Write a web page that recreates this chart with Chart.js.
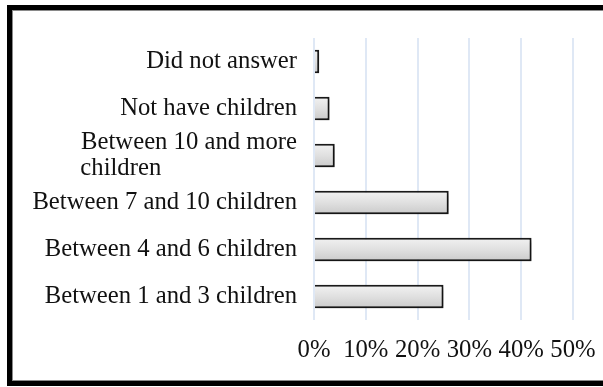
<!DOCTYPE html>
<html>
<head>
<meta charset="utf-8">
<script src="https://cdn.jsdelivr.net/npm/chart.js@4/dist/chart.umd.min.js"></script>
<style>
    html, body { margin: 0; padding: 0; background: #fff; overflow: hidden; }
    #wrap { position: relative; width: 603px; height: 387px; }
    #andamento { position: absolute; left: 0; top: 0; }
    #frame {
        position: absolute; left: 7px; top: 5px;
        width: 700px; height: 371px;
        border: 5px solid #000;
        box-shadow: inset 0 0 0 1px #8a8a8a;
        pointer-events: none;
    }
</style>
</head>
<body>
<div id="wrap">
    <canvas id="andamento" width="603" height="387"></canvas>
    <div id="frame"></div>
</div>
<script>
const FONT = '"Liberation Serif", "Times New Roman", serif';
const FONT_SIZE = 24.7;

// answers, top to bottom
const categories = [
    'Did not answer',
    'Not have children',
    ['Between 10 and more', 'children'],
    'Between 7 and 10 children',
    'Between 4 and 6 children',
    'Between 1 and 3 children'
];
const percents = [1, 3, 4, 26, 42, 25];
const xTicks = [0, 10, 20, 30, 40, 50];

// pad the short line of a wrapped label so both lines start at the same x
function padLines(label, ctx) {
    if (!Array.isArray(label)) return label;
    ctx.save();
    ctx.font = FONT_SIZE + 'px ' + FONT;
    const w = Math.max(...label.map(l => ctx.measureText(l).width));
    const out = label.map(l => {
        let s = l;
        while (ctx.measureText(s + ' ').width <= w + 1) s += ' ';
        return s;
    });
    ctx.restore();
    return out;
}

// soft shadow under the bars
const shadowPlugin = {
    id: 'barShadow',
    beforeDatasetsDraw(chart) {
        const ctx = chart.ctx;
        ctx.save();
        ctx.shadowColor = 'rgba(0,0,0,0.35)';
        ctx.shadowBlur = 4;
        ctx.shadowOffsetX = 2;
        ctx.shadowOffsetY = 2;
    },
    afterDatasetsDraw(chart) {
        chart.ctx.restore();
    }
};

// vertical grey gradient for each bar
function barFill(context) {
    const chart = context.chart;
    const y = chart.scales.y;
    if (!y || y.top === undefined) return '#dcdcdc';
    const cy = y.getPixelForValue(context.dataIndex);
    const half = (y.height / categories.length) * 0.5 / 2;
    const g = chart.ctx.createLinearGradient(0, cy - half, 0, cy + half);
    g.addColorStop(0, '#f2f2f2');
    g.addColorStop(0.5, '#e0e0e0');
    g.addColorStop(1, '#cacaca');
    return g;
}

const data = {
    labels: categories,
    datasets: [{
        data: percents,
        backgroundColor: barFill,
        borderColor: '#1a1a1a',
        borderWidth: 2,
        borderSkipped: 'start',
        categoryPercentage: 1,
        barPercentage: 0.5
    }]
};

const config = {
    type: 'bar',
    data,
    options: {
        indexAxis: 'y',
        responsive: false,
        animation: false,
        layout: { padding: { top: 38, right: 30, left: 0, bottom: 0 } },
        plugins: { legend: { display: false }, tooltip: { enabled: false } },
        scales: {
            x: {
                min: 0,
                max: 50,
                afterFit: (scale) => {
                    scale.height = 67;
                    scale.paddingLeft = 0;
                    scale.paddingRight = 0;
                },
                afterBuildTicks: (scale) => {
                    scale.ticks = xTicks.map(v => ({ value: v }));
                },
                grid: { color: '#dfe8f5', lineWidth: 2, drawTicks: false },
                border: { display: false },
                ticks: {
                    padding: 16,
                    color: '#111',
                    font: { family: FONT, size: FONT_SIZE },
                    callback: (v) => v + '%'
                }
            },
            y: {
                afterFit: (scale) => { scale.width = 314; },
                grid: { display: false, drawTicks: false },
                border: { display: false },
                ticks: {
                    autoSkip: false,
                    padding: 17,
                    color: '#111',
                    font: { family: FONT, size: FONT_SIZE, lineHeight: 1.05 },
                    callback: function (v, i) {
                        return padLines(categories[i], this.chart.ctx);
                    }
                }
            }
        }
    },
    plugins: [shadowPlugin]
};

var chart = new Chart(document.getElementById('andamento'), config);
</script>
</body>
</html>
